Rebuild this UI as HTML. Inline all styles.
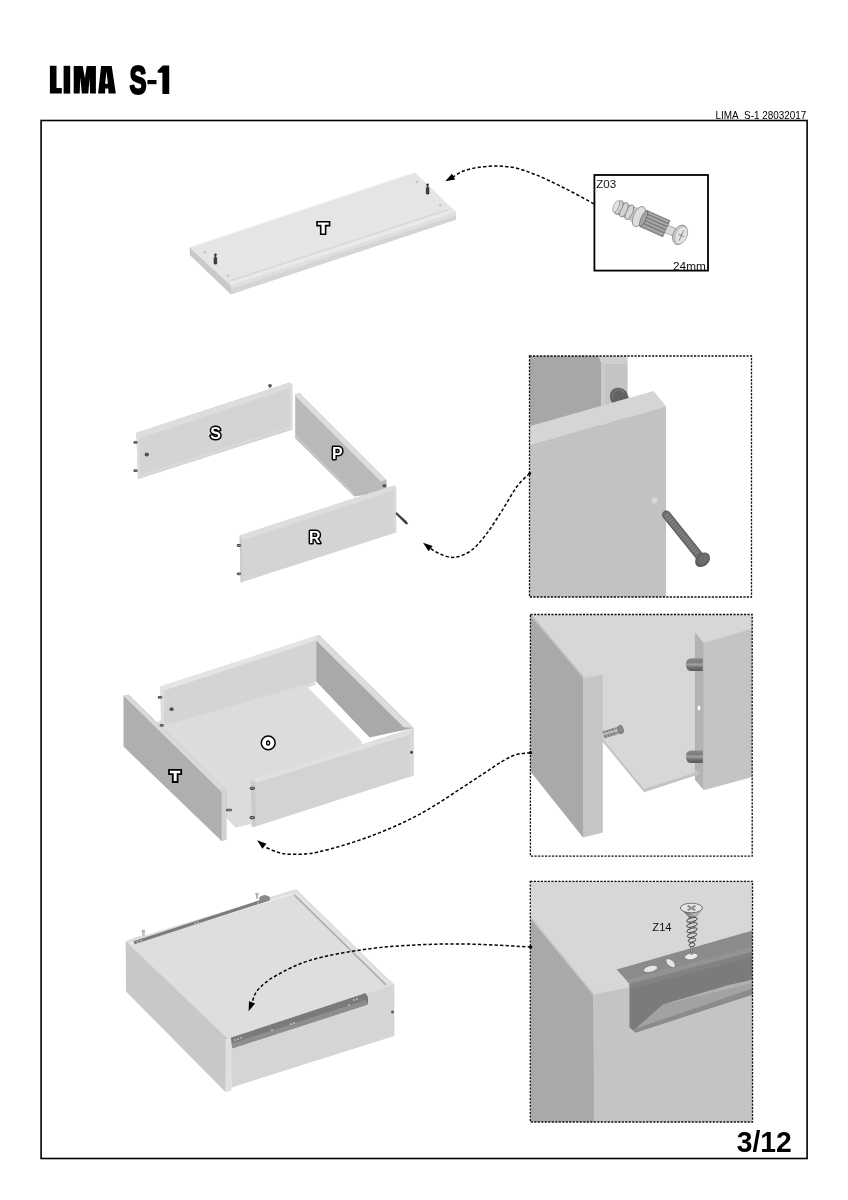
<!DOCTYPE html>
<html><head><meta charset="utf-8"><style>
html,body{margin:0;padding:0;background:#fff;}
body{width:848px;height:1200px;overflow:hidden;position:relative;font-family:"Liberation Sans",sans-serif;}
svg{position:absolute;left:0;top:0;display:block;filter:grayscale(1);}
svg text{font-family:"Liberation Sans",sans-serif;}
</style></head><body>
<svg width="848" height="1200" viewBox="0 0 848 1200">
<defs>
<clipPath id="cb2"><rect x="529.5" y="356" width="222" height="241"/></clipPath>
<clipPath id="cb3"><rect x="530.4" y="614.5" width="221.8" height="241.6"/></clipPath>
<clipPath id="cb4"><rect x="530.3" y="881.3" width="222.2" height="240.7"/></clipPath>
</defs>

<!-- TITLE -->
<g fill="#000">
<path d="M49.9,65.8 H56.5 V88.1 H61.8 V93.6 H49.9 Z"/>
<path d="M63.6,65.8 H70.2 V93.6 H63.6 Z"/>
<path d="M73.7,66 H82.7 L84.9,78 L86.7,66 H95.9 V93.6 H90.1 L89.5,78 L88.3,93.6 H81.8 L80.3,77.3 L79.7,93.6 H73.7 Z"/>
<path fill-rule="evenodd" d="M101.1,66 H111.7 L115.8,93.4 H108.5 L108.3,88.6 H105.2 L105.1,93.4 H98.1 Z M106.5,71.6 L107.9,83.8 H105.1 Z"/>
<path d="M147.4,80 H156.5 V84.2 H147.4 Z"/>
<path d="M157.7,70.6 L162.7,65.6 H169.2 V93.9 H162.4 V72.7 H157.7 Z"/>
<text id="titleS" transform="translate(129.6,93.9) scale(0.64,1)" font-size="40" font-weight="bold" stroke="#000" stroke-width="2.2" stroke-linejoin="round">S</text>
</g>
<text x="715.5" y="119.2" font-size="10.4" fill="#000" textLength="90.8" lengthAdjust="spacingAndGlyphs">LIMA&#160;&#160;S-1 28032017</text>

<!-- FRAME -->
<rect x="41.1" y="120.5" width="766" height="1038" fill="none" stroke="#000" stroke-width="1.6"/>
<text x="736.8" y="1151.6" font-size="29.5" font-weight="bold" fill="#000" textLength="55" lengthAdjust="spacingAndGlyphs">3/12</text>

<!-- DRAWING1 -->
<g id="d1">
<polygon points="189.5,247.5 200,246 233,283 231,294.4 190,255.2" fill="#c9c9c9"/>
<polygon points="230.8,283 452,209.5 456,212 456,219.7 231,294.4" fill="#d4d4d4"/>
<polygon points="230.8,285.6 456,212 456,215.4 230.9,289.2" fill="#dfdfdf"/>
<polygon points="189.5,247.5 415,172.5 456,212 230.8,285.6" fill="#e5e5e5"/>
<polygon points="229.3,280.6 446.5,209.5 447.7,210.7 230.4,281.8" fill="#d6d6d6"/>
<polygon points="230.4,281.8 447.7,210.7 452,213.3 230.8,285.6" fill="#e9e9e9"/>
<circle cx="204.8" cy="252.2" r="1.3" fill="#c4c4c4"/>
<circle cx="227.8" cy="275.8" r="1.3" fill="#c4c4c4"/>
<circle cx="417" cy="182" r="1.3" fill="#c4c4c4"/>
<circle cx="440.3" cy="205.3" r="1.3" fill="#c4c4c4"/>
<g fill="#3a3a3a">
<path d="M213.7,257.5 h3.4 v6.2 q0,0.8 -1.7,0.8 q-1.7,0 -1.7,-0.8 Z"/>
<rect x="214.6" y="255" width="1.6" height="3"/>
<ellipse cx="215.4" cy="254.6" rx="1.4" ry="1.2"/>
<path d="M425.9,187.5 h3.4 v6.2 q0,0.8 -1.7,0.8 q-1.7,0 -1.7,-0.8 Z"/>
<rect x="426.8" y="185" width="1.6" height="3"/>
<ellipse cx="427.6" cy="184.6" rx="1.4" ry="1.2"/>
</g>
<path d="M317,221.7 H329.6 V225.6 H325.6 V234.2 H320.7 V225.6 H317 Z" fill="#fff" stroke="#000" stroke-width="1.6" stroke-linejoin="miter"/>
</g>
<!-- Z03 -->
<g id="z03">
<rect x="594.4" y="175" width="113.6" height="95.6" fill="#fff" stroke="#000" stroke-width="1.8"/>
<text x="596.2" y="188" font-size="11.6" fill="#111">Z03</text>
<text x="705.8" y="270.4" font-size="11.8" fill="#111" text-anchor="end">24mm</text>
<g transform="translate(649,221) rotate(24)">
<rect x="-35" y="-6.5" width="22" height="13" fill="#c8c8c8" stroke="#7a7a7a" stroke-width="0.6"/>
<ellipse cx="-21.5" cy="0" rx="3.2" ry="8" fill="#d6d6d6" stroke="#777" stroke-width="0.7"/>
<ellipse cx="-27.5" cy="0" rx="3.2" ry="7.8" fill="#d4d4d4" stroke="#777" stroke-width="0.7"/>
<ellipse cx="-33" cy="0" rx="3.2" ry="7.4" fill="#d0d0d0" stroke="#777" stroke-width="0.7"/>
<ellipse cx="-36" cy="0" rx="2.6" ry="6.2" fill="#e2e2e2" stroke="#888" stroke-width="0.6"/>
<rect x="-17" y="-8" width="6" height="16" fill="#d0d0d0"/>
<ellipse cx="-11" cy="0" rx="5.4" ry="10.8" fill="#dedede" stroke="#7e7e7e" stroke-width="0.7"/>
<rect x="-6" y="-8.8" width="25" height="17.6" fill="#9a9a9a" stroke="#5a5a5a" stroke-width="0.6"/>
<path d="M-6,-5.6 h25 M-6,-2.2 h25 M-6,1.2 h25 M-6,4.6 h25" stroke="#747474" stroke-width="0.9"/>
<path d="M-6,-7.1 h25 M-6,-3.8 h25 M-6,-0.5 h25 M-6,2.9 h25 M-6,6.3 h25" stroke="#b2b2b2" stroke-width="0.7"/>
<ellipse cx="-6" cy="0" rx="2.4" ry="8.8" fill="#a4a4a4" stroke="#5a5a5a" stroke-width="0.6"/>
<rect x="19" y="-4" width="12" height="8" fill="#dadada" stroke="#888" stroke-width="0.6"/>
<ellipse cx="34" cy="0" rx="6.8" ry="10.2" fill="#cfcfcf" stroke="#777" stroke-width="0.7"/>
<ellipse cx="35.3" cy="0" rx="5.8" ry="9.2" fill="#e2e2e2" stroke="#999" stroke-width="0.5"/>
<path d="M35.5,-5.5 v11 M32.5,0 h6" stroke="#888" stroke-width="0.9"/>
</g>
</g>
<!-- DRAWING2 -->
<g id="d2">
<!-- S panel -->
<polygon points="136.3,432.8 289.5,382.5 292.3,384.5 292.3,429.7 137.8,479.2" fill="#d4d4d4"/>
<polygon points="136.3,432.8 289.5,382.5 289.5,388.3 139,438.2" fill="#dddddd"/>
<polygon points="289.5,382.5 292.3,384.5 292.3,429.7 289.5,430.6" fill="#dadada"/>
<polygon points="136.3,432.8 139,436 139.6,478.3 137.8,479.2" fill="#dedede"/>
<polygon points="139.5,475.5 292.3,426 292.3,427.6 139.5,477.1" fill="#dcdcdc"/>
<ellipse cx="146.8" cy="454.5" rx="2.2" ry="1.9" fill="#555"/>
<g><rect x="133.4" y="441.0" width="4.2" height="2.8" rx="1.4" fill="#4a4a4a"/><rect x="134.7" y="441.9" width="2.0" height="0.9" fill="#9a9a9a"/><rect x="133.4" y="469.3" width="4.2" height="2.8" rx="1.4" fill="#4a4a4a"/><rect x="134.7" y="470.2" width="2.0" height="0.9" fill="#9a9a9a"/></g>
<ellipse cx="270" cy="385.5" rx="1.9" ry="1.6" fill="#555"/><rect x="269.2" y="386" width="1.6" height="2" fill="#666"/>
<!-- P panel -->
<polygon points="295.2,394 386.6,480 386.6,492 354.3,496.6 295.2,438.2" fill="#b9b9b9"/>
<polygon points="295.2,394.3 299.7,392.8 386.6,479.7 380.8,481.6 295.2,396" fill="#dcdcdc"/>
<polygon points="295.2,434.6 354.3,493.2 354.3,495 295.2,436.4" fill="#cacaca"/>
<ellipse cx="384.4" cy="485.8" rx="2" ry="1.7" fill="#555"/>
<!-- R panel -->
<polygon points="239.6,535.5 393.7,485.5 396.2,487.5 396.2,532.5 240.7,582.6" fill="#d4d4d4"/>
<polygon points="239.6,535.5 393.7,485.5 393.7,490.5 242,540.6" fill="#dddddd"/>
<polygon points="393.7,485.5 396.2,487.5 396.2,532.5 393.7,533.3" fill="#d9d9d9"/>
<polygon points="239.6,535.5 242,538.5 242.5,582 240.7,582.6" fill="#cbcbcb"/>
<g><rect x="236.8" y="544.1" width="4.2" height="2.8" rx="1.4" fill="#4a4a4a"/><rect x="238.1" y="545.0" width="2.0" height="0.9" fill="#9a9a9a"/><rect x="236.8" y="572.4" width="4.2" height="2.8" rx="1.4" fill="#4a4a4a"/><rect x="238.1" y="573.3" width="2.0" height="0.9" fill="#9a9a9a"/></g>
<path d="M396.6,512.4 L406.6,521.6 L407.8,523.6 L406.2,524.2 L404.8,523 L395.8,514 Z" fill="#3e3e3e" stroke="#3e3e3e" stroke-width="0.6" stroke-linejoin="round"/>
<text x="215.6" y="438.6" font-size="16" font-weight="bold" fill="#fff" stroke="#000" stroke-width="3" paint-order="stroke" stroke-linejoin="round" text-anchor="middle">S</text>
<text x="337.3" y="458.8" font-size="16" font-weight="bold" fill="#fff" stroke="#000" stroke-width="3" paint-order="stroke" stroke-linejoin="round" text-anchor="middle">P</text>
<text x="314.8" y="542.8" font-size="16" font-weight="bold" fill="#fff" stroke="#000" stroke-width="3" paint-order="stroke" stroke-linejoin="round" text-anchor="middle">R</text>
</g>
<!-- BOX2 -->
<g id="b2">
<g clip-path="url(#cb2)">
<rect x="529.5" y="356" width="222" height="241" fill="#fff"/>
<polygon points="529.5,356 598.8,356 601.6,363.2 601.6,450 529.5,450" fill="#a7a7a7"/>
<polygon points="598.8,356 627.6,356 627.6,363.5 601.6,363.5" fill="#cecece"/>
<rect x="601.6" y="363.4" width="26" height="60" fill="#c4c4c4"/>
<rect x="601.6" y="363.4" width="3.6" height="60" fill="#cacaca"/>
<path d="M612.3,403 C608.8,399 609.2,391.5 613.5,389 C617.5,386.6 623.4,387.6 626.2,391.5 L629,398 Z" fill="#626262"/>
<path d="M613.5,399.5 C611.8,396 612.5,392 615.5,390.5 C618.5,389.2 622.5,390 624.5,393" fill="none" stroke="#7a7a7a" stroke-width="1.2"/>
<polygon points="529.5,426.3 653.6,390.9 666,406.2 529.5,445.7" fill="#d5d5d5"/>
<polygon points="529.5,445.7 666,406.2 666,600 529.5,600" fill="#c2c2c2"/>
<circle cx="654.5" cy="500.4" r="2.8" fill="#d8d8d8"/>
<line x1="666.3" y1="514.8" x2="699" y2="555.5" stroke="#5e5e5e" stroke-width="8.6" stroke-linecap="round"/>
<line x1="666.3" y1="514.8" x2="699" y2="555.5" stroke="#6e6e6e" stroke-width="6.4" stroke-linecap="round"/>
<path d="M666.3,514.8 L699,555.5" stroke="#868686" stroke-width="5" stroke-dasharray="1.3,1.9" fill="none"/>
<ellipse cx="702.6" cy="559.8" rx="8.4" ry="6.3" transform="rotate(-42,702.6,559.8)" fill="#5e5e5e"/>
<ellipse cx="703.2" cy="559.2" rx="6.2" ry="4.4" transform="rotate(-42,703.2,559.2)" fill="#6c6c6c"/>
</g>
<rect x="529.5" y="356" width="222" height="241" fill="none" stroke="#111" stroke-width="1.3" stroke-dasharray="2.2,1.3"/>
</g>
<!-- DRAWING3 -->
<g id="d3">
<!-- floor -->
<polygon points="140,733 161.2,720 310,677 362,741.7 360,760 252.7,790 250.8,824 235.8,827.7 215,806" fill="#dcdcdc"/>
<!-- back panel -->
<polygon points="160.3,686.6 319,634.9 316.2,640.6 316.2,681.6 161.2,726.2" fill="#d4d4d4"/>
<polygon points="160.3,686.6 319,634.9 316.2,640.6 164,690.5" fill="#e4e4e4"/>
<polygon points="160.3,686.6 164,690.5 164,725 161.2,726.2" fill="#dedede"/>
<!-- right panel inner face -->
<polygon points="319,634.9 413.6,728.1 369.5,737.5 316.2,681.6 316.2,640.6" fill="#a9a9a9"/>
<polygon points="319,634.9 413.6,728.1 403.7,727.2 316.2,640.6" fill="#dcdcdc"/>
<!-- white gap -->
<polygon points="307.9,687.6 316.4,684.4 370.6,738.5 362,741.7" fill="#fff"/>
<!-- front R panel -->
<polygon points="252.7,778.9 413.6,728.1 413.6,775.6 254.9,826.7" fill="#d3d3d3"/>
<polygon points="252.7,778.9 413.6,728.1 409.5,734.7 255.6,783" fill="#e0e0e0"/>
<polygon points="409.5,734.7 413.6,728.1 413.6,775.6 409.5,777" fill="#d8d8d8"/>
<polygon points="250.8,780 255.6,782.5 255.6,826.5 251.5,827" fill="#cbcbcb"/>
<circle cx="411.5" cy="752.2" r="1.5" fill="#444"/>
<!-- T panel -->
<polygon points="123.5,695.7 128.5,694.5 226.3,790.5 226.3,839.5 221.6,841 123.5,746.6" fill="#afafaf"/>
<polygon points="123.5,695.7 128.5,694.5 226.3,790.5 221.6,791.9" fill="#d9d9d9"/>
<polygon points="221.6,791.9 226.3,790.5 226.3,839.5 221.6,841" fill="#d2d2d2"/>
<!-- pins -->
<g><rect x="157.8" y="695.9" width="4.4" height="2.8" rx="1.4" fill="#4a4a4a"/><rect x="159.1" y="696.8" width="2.2" height="0.9" fill="#9a9a9a"/><rect x="159.8" y="723.9" width="4.0" height="2.8" rx="1.4" fill="#4a4a4a"/><rect x="161.1" y="724.8" width="1.8" height="0.9" fill="#9a9a9a"/><rect x="226.0" y="808.7" width="6.0" height="2.6" rx="1.3" fill="#4a4a4a"/><rect x="227.3" y="809.5" width="3.8" height="0.9" fill="#9a9a9a"/><rect x="249.8" y="786.7" width="5.2" height="3.2" rx="1.6" fill="#4a4a4a"/><rect x="251.1" y="787.8" width="3.0" height="0.9" fill="#9a9a9a"/><rect x="249.6" y="816.0" width="5.4" height="3.2" rx="1.6" fill="#4a4a4a"/><rect x="250.9" y="817.1" width="3.2" height="0.9" fill="#9a9a9a"/></g>
<ellipse cx="171.6" cy="709.2" rx="2.2" ry="1.9" fill="#555"/>
<circle cx="268.2" cy="742.9" r="6.9" fill="#fff" stroke="#000" stroke-width="1.5"/>
<ellipse cx="268.1" cy="743" rx="1.5" ry="2.05" fill="#fff" stroke="#000" stroke-width="1.35"/>
<path d="M169,769.9 H181.2 V774.1 H177.6 V782 H172.8 V774.1 H169 Z" fill="#fff" stroke="#000" stroke-width="1.8" stroke-linejoin="miter"/>
</g>
<!-- BOX3 -->
<g id="b3">
<defs>
<linearGradient id="dowel" x1="0" y1="0" x2="0" y2="1">
<stop offset="0" stop-color="#8c8c8c"/><stop offset="0.3" stop-color="#7c7c7c"/><stop offset="0.5" stop-color="#a2a2a2"/><stop offset="0.72" stop-color="#707070"/><stop offset="1" stop-color="#5a5a5a"/>
</linearGradient>
</defs>
<g clip-path="url(#cb3)">
<rect x="530.4" y="614.5" width="221.8" height="241.6" fill="#fff"/>
<polygon points="530.4,614.5 752.2,614.5 752.2,700 698.6,773.2 644.1,790.7 602.6,740.2 530.4,740.2" fill="#d7d7d7"/>
<polygon points="602.6,738.5 644.1,789 698.6,771.5 698.6,774.5 644.1,792.2 602.6,741.8" fill="#c4c4c4"/>
<polygon points="530.4,614.5 583,677.2 583,837.4 530.4,771.6" fill="#a9a9a9"/>
<polygon points="531.5,614.5 583.5,676.2 583,678 530.4,616" fill="#c0c0c0"/>
<polygon points="583,677.2 602.8,673.7 602.8,832.5 583,837.4" fill="#c5c5c5"/>
<polygon points="583,677.2 602.8,673.7 602.8,675 583,678.7" fill="#d2d2d2"/>
<polygon points="694.9,632.3 703.8,643 703.8,790.2 694.9,779.8" fill="#b3b3b3"/>
<polygon points="703.8,643 752.2,628.5 752.2,777 703.8,790.2" fill="#c4c4c4"/>
<polygon points="694.9,770 698.6,771.5 698.6,774.5 694.9,776" fill="#c4c4c4"/>
<g>
<path d="M702.8,658.2 H691 A5.2,6.4 0 0 0 691,671 H702.8 Z" fill="url(#dowel)"/>
<path d="M702.8,750.4 H691 A5.2,6.3 0 0 0 691,763 H702.8 Z" fill="url(#dowel)"/>
</g>
<ellipse cx="699" cy="708" rx="1.4" ry="2.5" fill="#fff"/>
<g transform="translate(603,735) rotate(-17)">
<rect x="0" y="-3.6" width="17" height="7.2" fill="#9c9c9c"/>
<path d="M2,-3.6 v7.2 M5,-3.6 v7.2 M8,-3.6 v7.2 M11,-3.6 v7.2" stroke="#777" stroke-width="0.9"/>
<rect x="0" y="-1.2" width="17" height="1.4" fill="#c8c8c8"/>
<ellipse cx="18.5" cy="0" rx="2.6" ry="4.3" fill="#8a8a8a" stroke="#666" stroke-width="0.6"/>
</g>
</g>
<rect x="530.4" y="614.5" width="221.8" height="241.6" fill="none" stroke="#111" stroke-width="1.3" stroke-dasharray="2.2,1.3"/>
</g>
<!-- DRAWING4 -->
<g id="d4">
<polygon points="125.7,941.3 140,936 229,1036 225.5,1092 126,991.5" fill="#c8c8c8"/>
<polygon points="229,1036 390,980 394.3,984.7 394.3,1036 231.6,1087.4" fill="#d5d5d5"/>
<polygon points="225.5,1039.2 231.6,1037.5 231.6,1090.5 225.5,1092.5" fill="#e0e0e0"/>
<polygon points="125.7,941.3 296.2,889.1 394.3,984.7 227.5,1038.5" fill="#dedede"/>
<line x1="294.3" y1="895.1" x2="385.8" y2="984.7" stroke="#a8a8a8" stroke-width="1.4"/>
<line x1="296" y1="893.3" x2="388" y2="983" stroke="#ececec" stroke-width="1"/>
<line x1="130" y1="944" x2="292" y2="894" stroke="#ebebeb" stroke-width="1.5"/>
<!-- back rail -->
<polygon points="133.5,941.2 268.5,897.4 269.6,900.4 134.5,944.3" fill="#7c7c7c"/>
<path d="M259,897.6 Q262,894.6 266,895.2 L269.8,896.8 L270,900 L260,901.5 Z" fill="#8a8a8a"/>
<g fill="#e2e2e2"><circle cx="137.5" cy="942" r="0.7"/><circle cx="141" cy="940.8" r="0.7"/><circle cx="195" cy="923.2" r="0.7"/><circle cx="198" cy="922.2" r="0.7"/><circle cx="258" cy="902.7" r="0.7"/></g>
<g fill="#c8c8c8" stroke="#8a8a8a" stroke-width="0.4"><rect x="142.6" y="931" width="1.6" height="4.2"/><rect x="141.8" y="930.2" width="3.2" height="1.4" rx="0.6"/>
<rect x="256.2" y="894" width="1.6" height="4.2"/><rect x="255.4" y="893.2" width="3.2" height="1.4" rx="0.6"/></g>
<!-- front rail -->
<polygon points="230.7,1037.8 366,993 367.6,1004.6 232.5,1048.2" fill="#7a7a7a"/>
<polygon points="231.5,1043.5 367,999.5 367.6,1004.6 232.5,1048.2" fill="#8e8e8e"/>
<path d="M362,994 q5,-1 6,4 l0,6" fill="#777"/>
<g fill="#e8e8e8"><circle cx="235" cy="1040" r="0.8"/><circle cx="238" cy="1039" r="0.8"/><circle cx="241" cy="1038" r="0.8"/><circle cx="272" cy="1030" r="0.8"/><circle cx="291" cy="1024" r="0.8"/><circle cx="294" cy="1023" r="0.8"/><circle cx="349" cy="1005" r="0.8"/><circle cx="354" cy="1000" r="0.8"/><circle cx="357" cy="999" r="0.8"/></g>
<circle cx="392.5" cy="1012" r="1.4" fill="#555"/>
</g>
<!-- BOX4 -->
<g id="b4">
<defs>
<linearGradient id="cone" x1="0" y1="0" x2="1" y2="0">
<stop offset="0" stop-color="#4a4a4a"/><stop offset="0.45" stop-color="#9a9a9a"/><stop offset="1" stop-color="#dcdcdc"/>
</linearGradient>
<linearGradient id="shank" x1="0" y1="0" x2="1" y2="0">
<stop offset="0" stop-color="#777"/><stop offset="0.5" stop-color="#d0d0d0"/><stop offset="1" stop-color="#aaa"/>
</linearGradient>
</defs>
<g clip-path="url(#cb4)">
<rect x="530.3" y="881.3" width="222.2" height="240.7" fill="#d7d7d7"/>
<polygon points="530.3,917.1 592.9,994.2 594.3,994.2 594.3,1125 530.3,1125" fill="#a9a9a9"/>
<polygon points="592.9,994.2 752.5,966 752.5,1125 594.3,1125" fill="#c4c4c4"/>
<polygon points="530.3,915.5 592.9,992.6 592.9,994.8 530.3,918.5" fill="#c6c6c6"/>
<!-- rail web -->
<polygon points="629.5,983.8 752.5,951.6 752.5,994.5 635.7,1032.4 629.5,1027.5" fill="#7b7b7b"/>
<polygon points="633.5,1030.5 662.9,1004.4 727.3,985.4 752.5,979.8 752.5,989 690,1011 637,1031.2" fill="#a2a2a2"/>
<polygon points="662.9,1004.4 700,996 752.5,983 752.5,979.8 727.3,985.4" fill="#b0b0b0"/>
<polygon points="633,1029.5 752.5,988.5 752.5,994.5 635.7,1032.4" fill="#8c8c8c"/>
<polygon points="629.5,983.8 752.5,951.6 752.5,957 629.5,989" fill="#828282"/>
<!-- rail flange -->
<polygon points="616.7,969.6 752.5,930.5 752.5,951.6 629.5,983.8" fill="#8b8b8b"/>
<polygon points="626,980 752.5,946.5 752.5,951.6 629.5,983.8" fill="#939393"/>
<ellipse cx="650.5" cy="968.9" rx="7.2" ry="3.2" transform="rotate(-14,650.5,968.9)" fill="#e6e6e6" stroke="#6c6c6c" stroke-width="0.5"/>
<ellipse cx="670.6" cy="963.1" rx="5.6" ry="3" transform="rotate(42,670.6,963.1)" fill="#e6e6e6" stroke="#6c6c6c" stroke-width="0.5"/>
<ellipse cx="691.2" cy="956.4" rx="6.6" ry="3.1" transform="rotate(-10,691.2,956.4)" fill="#ececec" stroke="#6c6c6c" stroke-width="0.5"/>
<!-- screw Z14 -->
<path d="M689,916.7 L695.4,916.7 L692.2,954.5 L691.2,954.5 Z" fill="url(#shank)" stroke="#444" stroke-width="0.5"/>
<ellipse cx="692" cy="944.8" rx="3.0" ry="1.9" transform="rotate(-14,692,944.8)" fill="#d6d6d6" stroke="#333" stroke-width="0.8"/>
<ellipse cx="692" cy="940.2" rx="4.0" ry="1.9" transform="rotate(-14,692,940.2)" fill="#d6d6d6" stroke="#333" stroke-width="0.8"/>
<ellipse cx="692" cy="935.2" rx="4.8" ry="1.9" transform="rotate(-14,692,935.2)" fill="#d6d6d6" stroke="#333" stroke-width="0.8"/>
<ellipse cx="692" cy="930.2" rx="5.3" ry="1.9" transform="rotate(-14,692,930.2)" fill="#d6d6d6" stroke="#333" stroke-width="0.8"/>
<ellipse cx="692" cy="925" rx="5.5" ry="1.9" transform="rotate(-14,692,925)" fill="#d6d6d6" stroke="#333" stroke-width="0.8"/>
<ellipse cx="692" cy="919.8" rx="5.5" ry="1.9" transform="rotate(-14,692,919.8)" fill="#d6d6d6" stroke="#333" stroke-width="0.8"/>
<path d="M680.4,908.2 Q684,912 689,916.8 L695.4,916.8 Q700,912 702.4,908.2 Z" fill="url(#cone)" stroke="#444" stroke-width="0.5"/>
<ellipse cx="691.4" cy="908" rx="11" ry="4.8" fill="#e4e4e4" stroke="#4a4a4a" stroke-width="0.7"/>
<path d="M687.6,905.8 L695.2,910.2 M695.4,905.8 L687.6,910.2" stroke="#6a6a6a" stroke-width="1.6"/>
<path d="M687.6,905.8 L695.2,910.2 M695.4,905.8 L687.6,910.2" stroke="#c8c8c8" stroke-width="0.5"/>
<text x="652.3" y="930.9" font-size="11.2" fill="#111">Z14</text>
</g>
<rect x="530.3" y="881.3" width="222.2" height="240.7" fill="none" stroke="#111" stroke-width="1.3" stroke-dasharray="2.2,1.3"/>
</g>
<g id="arrows" fill="none" stroke="#000" stroke-width="1.5" stroke-dasharray="3.3,2.2">
<path d="M593.8,203.8 C590.2,201.8 578.8,195.5 572.0,192.0 C565.2,188.5 559.5,185.6 553.2,182.6 C546.9,179.6 540.6,176.6 534.3,174.2 C528.0,171.8 521.8,169.3 515.5,167.9 C509.2,166.5 502.9,166.1 496.6,166.0 C490.3,165.9 483.4,166.6 477.7,167.5 C472.0,168.4 466.9,169.6 462.6,171.3 C458.3,173.0 453.8,176.5 452.0,177.5"/>
<path d="M529.6,473.5 C527.5,475.6 521.9,479.8 517.3,486.0 C512.7,492.2 507.1,502.7 502.0,510.6 C496.9,518.5 491.8,527.0 486.7,533.6 C481.6,540.2 476.7,546.5 471.3,550.4 C465.9,554.3 459.6,556.6 454.5,557.3 C449.4,557.9 444.7,555.8 440.7,554.3 C436.7,552.8 432.2,549.5 430.5,548.5"/>
<path d="M530.4,752.7 C527.0,753.4 519.6,752.4 509.9,757.1 C500.2,761.8 487.1,771.6 472.3,781.0 C457.5,790.4 438.1,804.2 421.0,813.5 C403.9,822.8 386.8,830.1 369.7,836.5 C352.6,842.9 331.5,849.0 318.4,852.0 C305.3,855.0 297.6,854.1 291.0,854.2 C284.4,854.3 283.2,853.7 279.0,852.6 C274.8,851.5 268.2,848.4 266.0,847.5"/>
<path d="M530.8,947.0 C520.7,946.5 489.0,944.5 470.0,944.1 C451.0,943.8 434.6,944.0 416.9,944.9 C399.2,945.8 381.5,947.0 363.8,949.5 C346.1,952.0 325.5,955.7 310.8,960.1 C296.1,964.5 284.2,971.0 275.4,976.0 C266.5,981.0 261.5,985.8 257.7,990.1 C253.8,994.4 253.2,999.8 252.3,1001.8"/>
</g>
<g fill="#000">
<polygon points="445.3,181.3 451.9,173.7 455.2,179.5"/>
<polygon points="423.0,542.8 432.6,545.9 428.6,551.2"/>
<polygon points="257.1,840.2 266.5,843.7 262.4,848.8"/>
<polygon points="248.6,1011.3 249.0,1001.3 255.1,1003.6"/>
<circle cx="529.8" cy="473.5" r="1.4"/><circle cx="530.4" cy="752.7" r="1.6"/><circle cx="530.8" cy="947" r="1.6"/>
</g>
</svg>
</body></html>
